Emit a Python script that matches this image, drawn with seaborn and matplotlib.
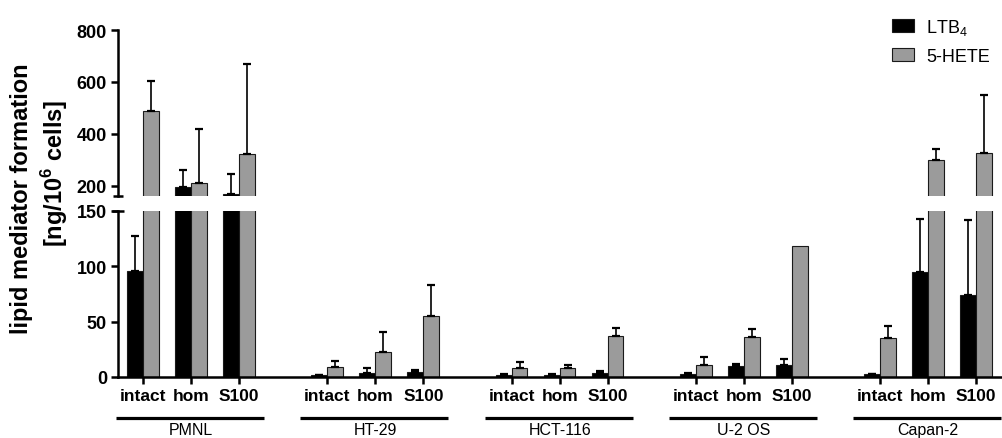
import numpy as np
import pandas as pd
import matplotlib
matplotlib.use("Agg")
import matplotlib.pyplot as plt
import matplotlib.transforms as mtransforms
from matplotlib.patches import Patch
import seaborn as sns

# ---------------- data ----------------
groups = ["PMNL", "HT-29", "HCT-116", "U-2 OS", "Capan-2"]
conditions = ["intact", "hom", "S100"]
series = ["LTB$_4$", "5-HETE"]

ltb4 = [96, 194, 168, 1.5, 4, 4.5, 2, 2, 3.3, 2.7, 10, 10.5, 2.5, 95, 74]
ltb4_sd = [31, 68, 76, 0.5, 4, 2.1, 0.5, 0.5, 1.7, 0.5, 2, 5.5, 0.5, 48, 68]
hete = [486, 211, 323, 9, 22.7, 55.5, 8.5, 8.2, 37, 11, 36, 118.5, 35.5, 297, 325]
hete_sd = [117, 206, 344, 5.5, 18.3, 27.5, 5.1, 2.8, 7.5, 7, 7, 0, 10.2, 43, 224]

group_step = 3.84
colors = ["#000000", "#9b9b9b"]

# ---------------- table ----------------
rows = []
pos_list = []
for gi, g in enumerate(groups):
    for ci, c in enumerate(conditions):
        k = gi * 3 + ci
        pos = round(gi * group_step + ci, 4)
        pos_list.append(pos)
        rows.append(dict(pos=pos, group=g, cond=c, series=series[0], value=ltb4[k], sd=ltb4_sd[k]))
        rows.append(dict(pos=pos, group=g, cond=c, series=series[1], value=hete[k], sd=hete_sd[k]))
df = pd.DataFrame(rows)

sns.set_style("ticks")
plt.rcParams["font.family"] = ["Liberation Sans", "DejaVu Sans"]
plt.rcParams["mathtext.fontset"] = "custom"
plt.rcParams["mathtext.rm"] = "Liberation Sans"
plt.rcParams["mathtext.bf"] = "Liberation Sans:bold"
for key in ("text.color", "axes.labelcolor", "xtick.color", "ytick.color", "axes.edgecolor"):
    plt.rcParams[key] = "black"

fig = plt.figure(figsize=(10.02, 4.39), dpi=100)
L = 118 / 1002
W = 1 - L
ax_top = fig.add_axes([L, 1 - 197 / 439, W, 166 / 439])
ax_bot = fig.add_axes([L, 1 - 378 / 439, W, 166 / 439])

xmin, xmax = -0.521, 17.896

for ax in (ax_top, ax_bot):
    sns.barplot(data=df, x="pos", y="value", hue="series", hue_order=series,
                palette=colors, native_scale=True, width=0.66, errorbar=None,
                edgecolor="#1a1a1a", linewidth=0.8, ax=ax, legend=False)
    # error bars (upper only) placed at the centres of the drawn bars
    for si, cont in enumerate(ax.containers[:2]):
        sub = df[df["series"] == series[si]].sort_values("pos")
        bars = sorted(cont.patches, key=lambda p: p.get_x())
        xs = np.array([b.get_x() + b.get_width() / 2 for b in bars])
        hs = np.array([b.get_height() for b in bars])
        sds = sub["sd"].to_numpy().astype(float)
        keep = sds > 0
        ax.errorbar(xs[keep], hs[keep], yerr=[np.zeros(keep.sum()), sds[keep]],
                    fmt="none", ecolor="black", elinewidth=1.2, capsize=3.0,
                    capthick=1.6, zorder=1)
    ax.set_xlim(xmin, xmax)
    ax.set_xlabel("")
    ax.set_ylabel("")
    for s in ("top", "right"):
        ax.spines[s].set_visible(False)
    ax.spines["left"].set_linewidth(1.8)
    ax.tick_params(axis="y", length=5, width=1.8, labelsize=13, pad=3)

# top panel
ax_top.set_ylim(160, 800)
ax_top.set_yticks([200, 400, 600, 800])
ax_top.set_yticklabels(["200", "400", "600", "800"], fontweight="bold", fontsize=13)
ax_top.spines["bottom"].set_visible(False)
ax_top.tick_params(axis="x", bottom=False, labelbottom=False)
ax_top.plot([0], [0], marker="_", markersize=7, mew=1.8, color="black",
            transform=ax_top.transAxes, clip_on=False)

# bottom panel
ax_bot.set_ylim(0, 150)
ax_bot.set_yticks([0, 50, 100, 150])
ax_bot.set_yticklabels(["0", "50", "100", "150"], fontweight="bold", fontsize=13)
ax_bot.spines["bottom"].set_linewidth(1.8)
ax_bot.set_xticks(pos_list)
ax_bot.set_xticklabels(conditions * len(groups), fontweight="bold", fontsize=12.5)
ax_bot.tick_params(axis="x", length=5, width=1.8, pad=3)
ax_bot.plot([0], [1], marker="_", markersize=9, mew=1.8, color="black",
            transform=ax_bot.transAxes, clip_on=False)

# group lines and names
trans = mtransforms.blended_transform_factory(ax_bot.transData, ax_bot.transAxes)
for gi, g in enumerate(groups):
    x0 = gi * group_step
    ax_bot.plot([x0 - 0.56, x0 + 2.52], [-0.247, -0.247], color="black", lw=2.3,
                transform=trans, clip_on=False, solid_capstyle="butt")
    ax_bot.text(x0 + 1, -0.316, g, transform=trans, ha="center", va="center",
                fontsize=11.5)

# y label
fig.text(22 / 1002, 1 - 199 / 439, "lipid mediator formation", rotation=90,
         ha="center", va="center", fontsize=17, fontweight="bold")
fig.text(55 / 1002, 1 - 173 / 439, r"[ng/10$^\mathbf{6}$ cells]", rotation=90,
         ha="center", va="center", fontsize=17, fontweight="bold")

# legend
handles = [Patch(facecolor=colors[0], edgecolor="#1a1a1a", linewidth=0.8),
           Patch(facecolor=colors[1], edgecolor="#1a1a1a", linewidth=0.8)]
fig.legend(handles, series, loc="upper left", bbox_to_anchor=(892 / 1002, 1 - 18 / 439),
           frameon=False, fontsize=13, handlelength=1.2, handleheight=0.75,
           handletextpad=0.7, labelspacing=0.6, borderpad=0, borderaxespad=0)

fig.savefig("out.png", dpi=100)
